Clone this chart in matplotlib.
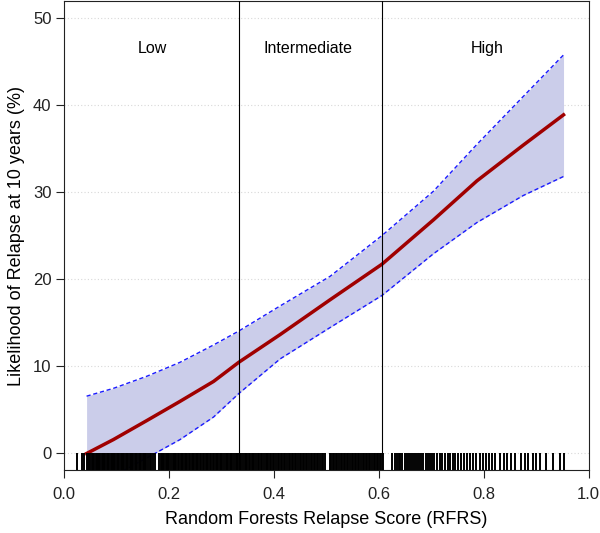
import numpy as np
import matplotlib
matplotlib.use("Agg")
import matplotlib.pyplot as plt

plt.rcParams['font.family'] = ['Liberation Sans', 'DejaVu Sans']

# smoothed risk curve with 95% band
score = [0.043, 0.094, 0.158, 0.221, 0.285, 0.333, 0.412, 0.507,
         0.606, 0.704, 0.787, 0.875, 0.952]
risk = [-0.1, 1.5, 3.7, 5.9, 8.2, 10.4, 13.6, 17.6,
        21.7, 26.8, 31.3, 35.4, 38.9]
upper = [6.5, 7.4, 8.8, 10.4, 12.4, 14.0, 16.9, 20.3,
         25.0, 30.1, 35.5, 41.0, 45.8]
lower = [-4.5, -2.7, -0.6, 1.5, 4.1, 6.8, 10.8, 14.4,
         18.1, 22.9, 26.5, 29.6, 31.8]

# cut points and group names
cuts = [0.333, 0.606]
groups = ["Low", "Intermediate", "High"]
group_x = [0.168, 0.465, 0.806]

# individual RFRS values (rug)
rug = [0.024, 0.034, 0.039, 0.044, 0.046, 0.048, 0.050, 0.053, 0.055,
       0.058, 0.060, 0.062, 0.065, 0.067, 0.069, 0.072, 0.074, 0.077,
       0.079, 0.081, 0.084, 0.086, 0.089, 0.091, 0.093, 0.096, 0.098,
       0.101, 0.103, 0.105, 0.108, 0.110, 0.113, 0.115, 0.118, 0.120,
       0.122, 0.125, 0.127, 0.130, 0.132, 0.135, 0.137, 0.140, 0.142,
       0.145, 0.147, 0.150, 0.152, 0.155, 0.157, 0.160, 0.163, 0.166,
       0.170, 0.173, 0.181, 0.184, 0.186, 0.189, 0.191, 0.194, 0.196,
       0.199, 0.201, 0.204, 0.207, 0.209, 0.212, 0.214, 0.217, 0.219,
       0.222, 0.225, 0.227, 0.230, 0.232, 0.235, 0.238, 0.240, 0.243,
       0.246, 0.248, 0.251, 0.254, 0.256, 0.259, 0.262, 0.264, 0.267,
       0.270, 0.272, 0.275, 0.278, 0.280, 0.283, 0.286, 0.289, 0.291,
       0.294, 0.297, 0.299, 0.302, 0.305, 0.308, 0.310, 0.313, 0.316,
       0.319, 0.321, 0.324, 0.327, 0.330, 0.332, 0.335, 0.338, 0.341,
       0.344, 0.346, 0.349, 0.352, 0.355, 0.358, 0.361, 0.363, 0.366,
       0.369, 0.372, 0.375, 0.378, 0.381, 0.384, 0.386, 0.389, 0.392,
       0.395, 0.398, 0.401, 0.404, 0.407, 0.410, 0.413, 0.416, 0.419,
       0.422, 0.425, 0.428, 0.431, 0.434, 0.437, 0.440, 0.443, 0.446,
       0.449, 0.452, 0.455, 0.458, 0.461, 0.464, 0.467, 0.470, 0.473,
       0.476, 0.479, 0.482, 0.485, 0.488, 0.491, 0.494, 0.497, 0.506,
       0.509, 0.512, 0.515, 0.518, 0.521, 0.524, 0.527, 0.530, 0.533,
       0.536, 0.539, 0.542, 0.545, 0.548, 0.551, 0.554, 0.557, 0.560,
       0.563, 0.566, 0.569, 0.572, 0.575, 0.578, 0.581, 0.584, 0.587,
       0.590, 0.593, 0.596, 0.599, 0.602, 0.605, 0.608, 0.626, 0.630,
       0.634, 0.638, 0.641, 0.645, 0.649, 0.653, 0.657, 0.661, 0.665,
       0.669, 0.673, 0.677, 0.681, 0.685, 0.689, 0.693, 0.697, 0.701,
       0.706, 0.711, 0.716, 0.721, 0.726, 0.731, 0.736, 0.741, 0.746,
       0.751, 0.757, 0.763, 0.768, 0.774, 0.780, 0.786, 0.792, 0.798,
       0.804, 0.810, 0.816, 0.822, 0.830, 0.838, 0.845, 0.852, 0.860,
       0.870, 0.878, 0.885, 0.893, 0.900, 0.908, 0.918, 0.932, 0.945,
       0.953]

fig = plt.figure(figsize=(6.0, 5.33), dpi=100)
ax = fig.add_axes([0.1067, 0.1182, 0.8745, 0.8798])

ymin, ymax = -2, 52
ax.set_xlim(0, 1)
ax.set_ylim(ymin, ymax)

# faint dotted horizontal grid
for yv in range(0, 51, 10):
    ax.axhline(yv, color='#d8d8d8', lw=0.8, ls=(0, (1, 2)), zorder=0)

ax.fill_between(score, lower, upper, color='#cbcdea', lw=0, zorder=1)
ax.plot(score, upper, color='#1a1aff', lw=1.0, ls=(0, (3, 2)), zorder=2)
ax.plot(score, lower, color='#1a1aff', lw=1.0, ls=(0, (3, 2)), zorder=2)
ax.plot(score, risk, color='#a00000', lw=2.5, zorder=3)

for c in cuts:
    ax.axvline(c, color='black', lw=0.8, zorder=4)

for name, gx in zip(groups, group_x):
    ax.text(gx, 46.5, name, ha='center', va='center', fontsize=11.5)

ax.vlines(rug, ymin, 0, color='black', lw=1.4, zorder=4)

ax.set_xticks([0.0, 0.2, 0.4, 0.6, 0.8, 1.0])
ax.set_xticklabels(['0.0', '0.2', '0.4', '0.6', '0.8', '1.0'])
ax.set_yticks([0, 10, 20, 30, 40, 50])
ax.tick_params(axis='both', direction='out', length=6, width=0.8,
               labelsize=12, colors='#222222')
ax.tick_params(axis='y', pad=3)
ax.tick_params(axis='x', pad=6)
for s in ax.spines.values():
    s.set_linewidth(0.8)
    s.set_color('#222222')

ax.set_xlabel("Random Forests Relapse Score (RFRS)", fontsize=13, labelpad=7)
ax.set_ylabel("Likelihood of Relapse at 10 years (%)", fontsize=13, labelpad=6)

fig.savefig("out.png", dpi=100)
